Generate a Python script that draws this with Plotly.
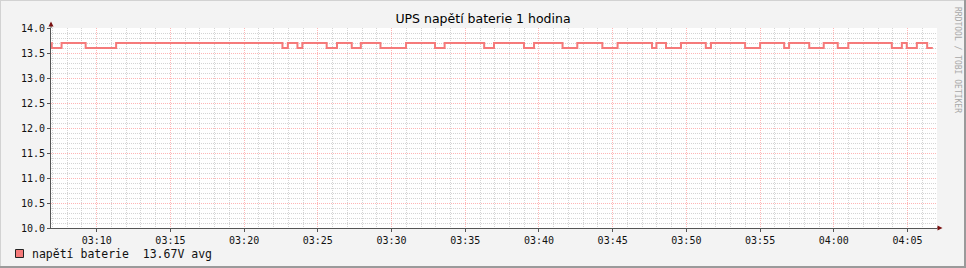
import plotly.graph_objects as go

# ---------------- data ----------------
day = "2024-01-01 "
change_times = [
    "03:06:55", "03:06:57", "03:07:37", "03:09:15", "03:11:19", "03:22:36",
    "03:22:58", "03:23:37", "03:23:57", "03:25:36", "03:26:18", "03:27:18",
    "03:27:55", "03:29:15", "03:30:59", "03:32:57", "03:33:36", "03:36:17",
    "03:36:57", "03:38:59", "03:39:40", "03:41:36", "03:42:36", "03:44:18",
    "03:45:20", "03:47:40", "03:47:58", "03:48:37", "03:49:38", "03:51:19",
    "03:51:40", "03:53:59", "03:55:00", "03:56:38", "03:56:58", "03:58:20",
    "03:59:19", "04:00:16", "04:00:59", "04:03:56", "04:04:37", "04:04:57",
    "04:05:38", "04:06:20", "04:06:43",
]
voltage = [
    13.7, 13.6, 13.7, 13.6, 13.7, 13.6,
    13.7, 13.6, 13.7, 13.6, 13.7, 13.6,
    13.7, 13.6, 13.7, 13.6, 13.7, 13.6,
    13.7, 13.6, 13.7, 13.6, 13.7, 13.6,
    13.7, 13.6, 13.7, 13.6, 13.7, 13.6,
    13.7, 13.6, 13.7, 13.6, 13.7, 13.6,
    13.7, 13.6, 13.7, 13.6, 13.7, 13.6,
    13.7, 13.6, 13.6,
]
x_start, x_end = "03:06:54", "04:07:00"
tick_start = "03:10:00"
y_min, y_max = 10.0, 14.0

title_text = "UPS napětí baterie 1 hodina"
legend_label = "napětí baterie"
legend_value = "13.67V avg"
watermark = "RRDTOOL / TOBI OETIKER"

# ---------------- layout geometry ----------------
FW, FH = 966, 268
L, T, W, H = 51, 28, 886, 200
R = FW - L - W
B = FH - T - H

def px(xp):
    return (xp - L) / W

def py(yp):
    return (T + H - yp) / H

line_color = "#F57A7A"
axis_color = "#555555"
arrow_color = "#7A1010"
major_grid = "rgba(255,90,90,0.45)"
minor_grid = "rgba(160,160,160,0.45)"
mono = "DejaVu Sans Mono"

fig = go.Figure()
fig.add_trace(go.Scatter(
    x=[day + t for t in change_times], y=voltage,
    mode="lines", line=dict(color=line_color, width=2, shape="hv"),
    showlegend=False, hoverinfo="skip", cliponaxis=True,
))

fig.update_layout(
    width=FW, height=FH,
    margin=dict(l=L, r=R, t=T, b=B, pad=0),
    paper_bgcolor="#F3F3F3", plot_bgcolor="#FFFFFF",
    showlegend=False,
    title=dict(text=title_text, x=0.5, xanchor="center", y=1 - 19 / FH,
               yanchor="middle", font=dict(family="DejaVu Sans", size=12.5, color="#000")),
    xaxis=dict(
        type="date", range=[day + x_start, day + x_end],
        tick0=day + tick_start, dtick=300000, tickformat="%H:%M",
        showgrid=True, gridcolor=major_grid, griddash="1px,1px", gridwidth=1,
        minor=dict(dtick=60000, tick0=day + tick_start, showgrid=True,
                   gridcolor=minor_grid, griddash="1px,1px", gridwidth=1),
        showline=True, linecolor=axis_color, linewidth=1,
        ticks="outside", ticklen=3, tickcolor=axis_color,
        tickfont=dict(family=mono, size=10, color="#111"),
        zeroline=False, fixedrange=True,
    ),
    yaxis=dict(
        range=[y_min, y_max], dtick=0.5, tick0=10, tickformat=".1f",
        showgrid=True, gridcolor=major_grid, griddash="1px,1px", gridwidth=1,
        minor=dict(dtick=0.1, showgrid=True,
                   gridcolor=minor_grid, griddash="1px,1px", gridwidth=1),
        showline=True, linecolor=axis_color, linewidth=1,
        ticks="outside", ticklen=3, tickcolor=axis_color,
        tickfont=dict(family=mono, size=10, color="#111"),
        zeroline=False, fixedrange=True,
    ),
)

shapes = []
# axis extensions + arrows
shapes.append(dict(type="line", xref="paper", yref="paper", x0=0, x1=0, y0=1, y1=py(23),
                   line=dict(color=axis_color, width=1)))
shapes.append(dict(type="line", xref="paper", yref="paper", x0=1, x1=px(939), y0=0, y1=0,
                   line=dict(color=axis_color, width=1)))
shapes.append(dict(type="path", xref="paper", yref="paper",
                   path=f"M {px(48.5)},{py(26.5)} L {px(53.5)},{py(26.5)} L {px(51)},{py(21.5)} Z",
                   fillcolor=arrow_color, line=dict(width=0)))
shapes.append(dict(type="path", xref="paper", yref="paper",
                   path=f"M {px(937.5)},{py(225.5)} L {px(937.5)},{py(230.5)} L {px(942.5)},{py(228)} Z",
                   fillcolor=arrow_color, line=dict(width=0)))
# frame
shapes.append(dict(type="rect", xref="paper", yref="paper", x0=px(0), x1=px(FW), y0=py(0), y1=py(1),
                   fillcolor="#D2D2D2", line=dict(width=0), layer="below"))
shapes.append(dict(type="rect", xref="paper", yref="paper", x0=px(0), x1=px(1), y0=py(0), y1=py(FH),
                   fillcolor="#D2D2D2", line=dict(width=0), layer="below"))
shapes.append(dict(type="rect", xref="paper", yref="paper", x0=px(FW - 2), x1=px(FW), y0=py(0), y1=py(FH),
                   fillcolor="#9A9A9A", line=dict(width=0), layer="below"))
shapes.append(dict(type="rect", xref="paper", yref="paper", x0=px(0), x1=px(FW), y0=py(FH - 2), y1=py(FH),
                   fillcolor="#9A9A9A", line=dict(width=0), layer="below"))
# legend swatch
shapes.append(dict(type="rect", xref="paper", yref="paper", x0=px(15.5), x1=px(23.5),
                   y0=py(257.5), y1=py(249.5), fillcolor=line_color,
                   line=dict(color="#222", width=1)))
fig.update_layout(shapes=shapes)

fig.add_annotation(xref="paper", yref="paper", x=px(30), y=py(254), xanchor="left", yanchor="middle",
                   text=f"{legend_label}  {legend_value}", showarrow=False,
                   font=dict(family=mono, size=11.5, color="#111"))
fig.add_annotation(xref="paper", yref="paper", x=px(958), y=py(60), xanchor="center", yanchor="middle",
                   text=watermark, textangle=90, showarrow=False,
                   font=dict(family=mono, size=8, color="#A8A8A8"))

fig.write_html("out.html", config={"displayModeBar": False})
